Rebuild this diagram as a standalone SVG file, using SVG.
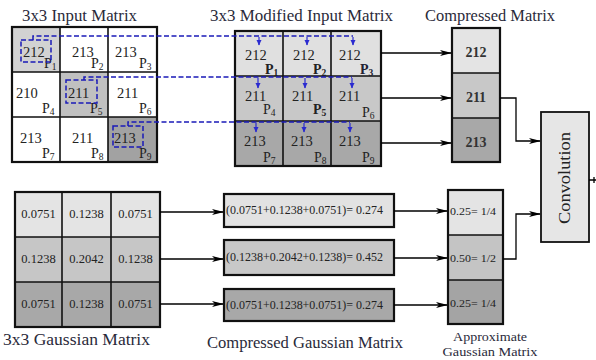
<svg xmlns="http://www.w3.org/2000/svg" width="596" height="360" viewBox="0 0 596 360">
<style>
text{font-family:"Liberation Serif","Times New Roman",serif;fill:#222}
.title{font-size:16px;fill:#2a2a3a}
.title2{font-size:13.5px;fill:#2a2a3a;text-anchor:middle}
.num{font-size:14.5px}
.p{font-size:14px}
.pb{font-size:14px;font-weight:bold}
.sub{font-size:9.5px}
.gv{font-size:12.5px;text-anchor:middle}
.cg{font-size:11.5px}
.ap{font-size:11px}
.cm{font-size:14px;font-weight:bold;text-anchor:middle;fill:#333}
.grid{fill:none;stroke:#111;stroke-width:1.6}
.outer{fill:none;stroke:#111;stroke-width:2.2}
.dash{fill:none;stroke:#1a1ab8;stroke-width:1.5;stroke-dasharray:5 2.5}
.blue{fill:none;stroke:#2a2ad0;stroke-width:1.2}
.conn{fill:none;stroke:#000;stroke-width:1.3}
</style>
<defs>
<marker id="ah" markerWidth="12" markerHeight="8" refX="11" refY="4" orient="auto" markerUnits="userSpaceOnUse">
<path d="M0,1 L12,4 L0,7 L3,4 z" fill="#000"/>
</marker>
<marker id="bh" markerWidth="6" markerHeight="6" refX="3" refY="5" orient="0" markerUnits="userSpaceOnUse">
<path d="M0.5,0 L3,5.5 L5.5,0 z" fill="#2a2ad0"/>
</marker>
</defs>

<!-- 3x3 Input Matrix -->
<g id="input-matrix">
<text class="title" x="22" y="21" textLength="115" lengthAdjust="spacingAndGlyphs">3x3 Input Matrix</text>
<rect x="12" y="27" width="48" height="45" fill="#d2d2d2"/>
<rect x="60" y="72" width="48" height="45" fill="#c0c0c0"/>
<rect x="108" y="117" width="49" height="45" fill="#a2a2a2"/>
<path class="grid" d="M60,27V162M108,27V162M12,72H157M12,117H157"/>
<rect class="outer" x="12" y="27" width="145" height="135"/>
<text class="num" x="23" y="57">212</text>
<text class="p" x="44" y="68">P<tspan class="sub" dy="2">1</tspan></text>
<text class="num" x="72" y="57">213</text>
<text class="p" x="91" y="68">P<tspan class="sub" dy="2">2</tspan></text>
<text class="num" x="115" y="57">213</text>
<text class="p" x="139" y="68">P<tspan class="sub" dy="2">3</tspan></text>
<text class="num" x="16" y="98">210</text>
<text class="p" x="42" y="113">P<tspan class="sub" dy="2">4</tspan></text>
<text class="num" x="68" y="98">211</text>
<text class="p" x="90" y="113">P<tspan class="sub" dy="2">5</tspan></text>
<text class="num" x="117" y="98">211</text>
<text class="p" x="139" y="113">P<tspan class="sub" dy="2">6</tspan></text>
<text class="num" x="20" y="143">213</text>
<text class="p" x="42" y="158">P<tspan class="sub" dy="2">7</tspan></text>
<text class="num" x="72" y="143">211</text>
<text class="p" x="91" y="158">P<tspan class="sub" dy="2">8</tspan></text>
<text class="num" x="114" y="143">213</text>
<text class="p" x="139" y="158">P<tspan class="sub" dy="2">9</tspan></text>
<rect class="dash" x="21" y="40" width="30" height="22"/>
<rect class="dash" x="66" y="80" width="31" height="23"/>
<rect class="dash" x="113" y="126" width="30" height="21"/>
</g>

<!-- 3x3 Modified Input Matrix -->
<g id="modified-matrix">
<text class="title" x="210" y="21" textLength="183" lengthAdjust="spacingAndGlyphs">3x3 Modified Input Matrix</text>
<rect x="235" y="31" width="146" height="45" fill="#e0e0e0"/>
<rect x="235" y="76" width="146" height="45" fill="#c8c8c8"/>
<rect x="235" y="121" width="146" height="45" fill="#a8a8a8"/>
<path class="grid" d="M283,31V166M331,31V166M235,76H381M235,121H381"/>
<rect class="outer" x="235" y="31" width="146" height="135"/>
<text class="num" x="245" y="60">212</text>
<text class="pb" x="265" y="74">P<tspan class="sub" dy="2">1</tspan></text>
<text class="num" x="293" y="60">212</text>
<text class="pb" x="313" y="74">P<tspan class="sub" dy="2">2</tspan></text>
<text class="num" x="339" y="60">212</text>
<text class="pb" x="360" y="74" style="fill:#223">P<tspan class="sub" dy="2">3</tspan></text>
<text class="num" x="245" y="101">211</text>
<text class="p" x="263" y="114">P<tspan class="sub" dy="2">4</tspan></text>
<text class="num" x="292" y="101">211</text>
<text class="pb" x="313" y="114">P<tspan class="sub" dy="2">5</tspan></text>
<text class="num" x="339" y="101">211</text>
<text class="p" x="362" y="117">P<tspan class="sub" dy="2">6</tspan></text>
<text class="num" x="244" y="146">213</text>
<text class="p" x="263" y="162">P<tspan class="sub" dy="2">7</tspan></text>
<text class="num" x="291" y="146">213</text>
<text class="p" x="314" y="162">P<tspan class="sub" dy="2">8</tspan></text>
<text class="num" x="339" y="146">213</text>
<text class="p" x="362" y="162">P<tspan class="sub" dy="2">9</tspan></text>
</g>

<!-- Compressed Matrix -->
<g id="compressed-matrix">
<text class="title" x="425" y="21" textLength="130" lengthAdjust="spacingAndGlyphs">Compressed Matrix</text>
<rect x="452" y="28" width="48" height="45" fill="#e4e4e4"/>
<rect x="452" y="73" width="48" height="45" fill="#c8c8c8"/>
<rect x="452" y="118" width="48" height="44" fill="#a8a8a8"/>
<path class="grid" d="M452,73H500M452,118H500"/>
<rect class="outer" x="452" y="28" width="48" height="134"/>
<text class="cm" x="476" y="57">212</text>
<text class="cm" x="476" y="102">211</text>
<text class="cm" x="476" y="147">213</text>
</g>

<!-- Convolution -->
<g id="convolution">
<rect x="541" y="112" width="48" height="130" fill="#e6e6e6" stroke="#111" stroke-width="1.8"/>
<text x="570" y="178" transform="rotate(-90 570 178)" text-anchor="middle" font-size="16" textLength="92" lengthAdjust="spacingAndGlyphs">Convolution</text>
</g>

<!-- 3x3 Gaussian Matrix -->
<g id="gaussian-matrix">
<rect x="15" y="192" width="145" height="45" fill="#e4e4e4"/>
<rect x="15" y="237" width="145" height="45" fill="#c6c6c6"/>
<rect x="15" y="282" width="145" height="45" fill="#a8a8a8"/>
<path class="grid" d="M62,192V327M111,192V327M15,237H160M15,282H160"/>
<rect class="outer" x="15" y="192" width="145" height="135"/>
<text class="gv" x="38.5" y="218">0.0751</text>
<text class="gv" x="86.5" y="218">0.1238</text>
<text class="gv" x="135.5" y="218">0.0751</text>
<text class="gv" x="38.5" y="263">0.1238</text>
<text class="gv" x="86.5" y="263">0.2042</text>
<text class="gv" x="135.5" y="263">0.1238</text>
<text class="gv" x="38.5" y="308">0.0751</text>
<text class="gv" x="86.5" y="308">0.1238</text>
<text class="gv" x="135.5" y="308">0.0751</text>
<text class="title" x="3" y="345" textLength="147" lengthAdjust="spacingAndGlyphs">3x3 Gaussian Matrix</text>
</g>

<!-- Compressed Gaussian Matrix -->
<g id="compressed-gaussian">
<rect x="224" y="194" width="170" height="33" fill="#e2e2e2" stroke="#111" stroke-width="2.2"/>
<rect x="224" y="240" width="170" height="35" fill="#c8c8c8" stroke="#111" stroke-width="2.2"/>
<rect x="224" y="289" width="170" height="32" fill="#a8a8a8" stroke="#111" stroke-width="2.2"/>
<text class="cg" x="226" y="214" textLength="157" lengthAdjust="spacingAndGlyphs">(0.0751+0.1238+0.0751)= 0.274</text>
<text class="cg" x="226" y="261" textLength="157" lengthAdjust="spacingAndGlyphs">(0.1238+0.2042+0.1238)= 0.452</text>
<text class="cg" x="226" y="309" textLength="157" lengthAdjust="spacingAndGlyphs">(0.0751+0.1238+0.0751)= 0.274</text>
<text class="title" x="207" y="348" textLength="196" lengthAdjust="spacingAndGlyphs">Compressed Gaussian Matrix</text>
</g>

<!-- Approximate Gaussian Matrix -->
<g id="approx-gaussian">
<rect x="448" y="190" width="55" height="45" fill="#e4e4e4"/>
<rect x="448" y="235" width="55" height="45" fill="#c4c4c4"/>
<rect x="448" y="280" width="55" height="44" fill="#a4a4a4"/>
<path class="grid" d="M448,235H503M448,280H503"/>
<rect class="outer" x="448" y="190" width="55" height="134"/>
<text class="ap" x="450" y="215" textLength="46" lengthAdjust="spacingAndGlyphs">0.25= 1/4</text>
<text class="ap" x="450" y="262" textLength="46" lengthAdjust="spacingAndGlyphs">0.50= 1/2</text>
<text class="ap" x="450" y="307" textLength="46" lengthAdjust="spacingAndGlyphs">0.25= 1/4</text>
<text class="title2" x="490" y="340.5" textLength="74" lengthAdjust="spacingAndGlyphs">Approximate</text>
<text class="title2" x="490" y="356" textLength="95" lengthAdjust="spacingAndGlyphs">Gaussian Matrix</text>
</g>

<!-- Connectors -->
<g id="connectors">
<path class="dash" d="M33,40V36H353"/>
<path class="dash" d="M84,80V77H352"/>
<path class="dash" d="M128,126V122H350"/>
<path class="blue" marker-end="url(#bh)" d="M259,37V45"/>
<path class="blue" marker-end="url(#bh)" d="M307,37V45"/>
<path class="blue" marker-end="url(#bh)" d="M353,37V45"/>
<path class="blue" marker-end="url(#bh)" d="M258,78V88"/>
<path class="blue" marker-end="url(#bh)" d="M305,78V88"/>
<path class="blue" marker-end="url(#bh)" d="M352,78V88"/>
<path class="blue" marker-end="url(#bh)" d="M256,123V132"/>
<path class="blue" marker-end="url(#bh)" d="M304,123V132"/>
<path class="blue" marker-end="url(#bh)" d="M350,123V132"/>
<path class="conn" marker-end="url(#ah)" d="M381,53H451"/>
<path class="conn" marker-end="url(#ah)" d="M381,98H451"/>
<path class="conn" marker-end="url(#ah)" d="M381,143H451"/>
<path class="conn" stroke-width="1.8" marker-end="url(#ah)" d="M500,98H516V141H540"/>
<path class="conn" stroke-width="1.8" marker-end="url(#ah)" d="M503,259H516V214H540"/>
<path class="conn" d="M589,180H596M594,177V183"/>
<path class="conn" marker-end="url(#ah)" d="M160,212H223"/>
<path class="conn" marker-end="url(#ah)" d="M160,259H223"/>
<path class="conn" marker-end="url(#ah)" d="M160,304H223"/>
<path class="conn" marker-end="url(#ah)" d="M394,211H447"/>
<path class="conn" marker-end="url(#ah)" d="M394,258H447"/>
<path class="conn" marker-end="url(#ah)" d="M394,305H447"/>
</g>
</svg>
